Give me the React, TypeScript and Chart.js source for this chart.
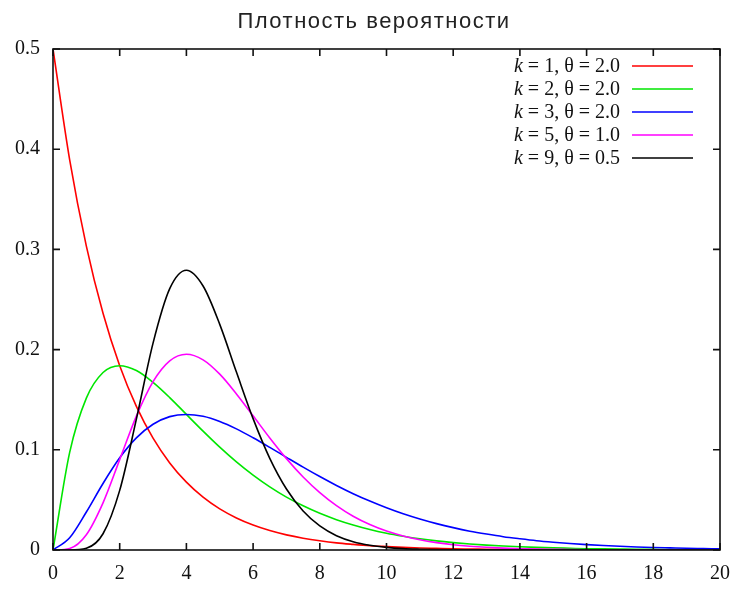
import React, { useEffect, useRef } from "react";
import { Chart, registerables } from "chart.js";

Chart.register(...registerables);

const chartTitle = "Плотность вероятности";

const xValues = [
  0, 0.5, 1, 1.5, 2, 2.5, 3, 3.5, 4, 4.5, 5, 5.5, 6, 6.5, 7, 7.5, 8, 8.5, 9, 9.5, 10,
  10.5, 11, 11.5, 12, 12.5, 13, 13.5, 14, 14.5, 15, 15.5, 16, 16.5, 17, 17.5, 18, 18.5, 19, 19.5, 20,
];

const seriesK1 = [
  0.5, 0.3894, 0.3033, 0.2362, 0.1839, 0.1433, 0.1116, 0.0869, 0.0677, 0.0527, 0.041,
  0.032, 0.0249, 0.0194, 0.0151, 0.0118, 0.0092, 0.0071, 0.0056, 0.0043, 0.0034,
  0.0026, 0.002, 0.0016, 0.0012, 0.001, 0.0008, 0.0006, 0.0005, 0.0004, 0.0003,
  0.0002, 0.0002, 0.0001, 0.0001, 0.0001, 0.0001, 0, 0, 0, 0,
];

const seriesK2 = [
  0, 0.0974, 0.1516, 0.1771, 0.1839, 0.1791, 0.1673, 0.1521, 0.1353, 0.1186, 0.1026,
  0.0879, 0.0747, 0.063, 0.0528, 0.0441, 0.0366, 0.0303, 0.025, 0.0205, 0.0168,
  0.0138, 0.0112, 0.0091, 0.0074, 0.006, 0.0049, 0.004, 0.0032, 0.0026, 0.0021,
  0.0017, 0.0013, 0.0011, 0.0009, 0.0007, 0.0006, 0.0004, 0.0004, 0.0003, 0.0002,
];

const seriesK3 = [
  0, 0.0122, 0.0379, 0.0664, 0.092, 0.1119, 0.1255, 0.1331, 0.1353, 0.1334, 0.1283,
  0.1209, 0.112, 0.1024, 0.0925, 0.0827, 0.0733, 0.0644, 0.0562, 0.0488, 0.0421,
  0.0361, 0.0309, 0.0263, 0.0223, 0.0188, 0.0159, 0.0133, 0.0112, 0.0093, 0.0078,
  0.0065, 0.0054, 0.0045, 0.0037, 0.003, 0.0025, 0.0021, 0.0017, 0.0014, 0.0011,
];

const seriesK5 = [
  0, 0.0016, 0.0153, 0.0471, 0.0902, 0.1336, 0.168, 0.1888, 0.1954, 0.1898, 0.1755,
  0.1558, 0.1339, 0.1118, 0.0912, 0.0729, 0.0573, 0.0443, 0.0337, 0.0254, 0.0189,
  0.014, 0.0102, 0.0074, 0.0053, 0.0038, 0.0027, 0.0019, 0.0013, 0.0009, 0.0007,
  0.0005, 0.0003, 0.0002, 0.0001, 0.0001, 0.0001, 0, 0, 0, 0,
];

const seriesK9 = [
  0, 0.0, 0.0017, 0.0162, 0.0595, 0.1306, 0.2065, 0.2608, 0.2792, 0.2635, 0.2252,
  0.1776, 0.1311, 0.0915, 0.0609, 0.0389, 0.024, 0.0143, 0.0083, 0.0047, 0.0026,
  0.0014, 0.0008, 0.0004, 0.0002, 0.0001, 0.0001, 0, 0, 0, 0,
  0, 0, 0, 0, 0, 0, 0, 0, 0, 0,
];

const legendK = ["1", "2", "3", "5", "9"];
const legendTheta = ["2.0", "2.0", "2.0", "1.0", "0.5"];
const seriesColors = ["#ff0000", "#00e600", "#0000ff", "#ff00ff", "#000000"];
const allSeries = [seriesK1, seriesK2, seriesK3, seriesK5, seriesK9];

const xTicks = [0, 2, 4, 6, 8, 10, 12, 14, 16, 18, 20];
const yTicks = [0, 0.1, 0.2, 0.3, 0.4, 0.5];

const SERIF = "'Liberation Serif', 'Times New Roman', serif";

const decorPlugin = {
  id: "decor",
  afterDatasetsDraw(chart: any) {
    const ctx = chart.ctx as CanvasRenderingContext2D;
    const { left, right, top, bottom } = chart.chartArea;
    const xs = chart.scales.x;
    const ys = chart.scales.y;
    ctx.save();
    // frame
    ctx.strokeStyle = "#111";
    ctx.lineWidth = 1.6;
    ctx.strokeRect(left, top, right - left, bottom - top);
    // inward ticks on all sides
    const tl = 7;
    ctx.beginPath();
    xTicks.forEach((v) => {
      const px = xs.getPixelForValue(v);
      ctx.moveTo(px, bottom);
      ctx.lineTo(px, bottom - tl);
      ctx.moveTo(px, top);
      ctx.lineTo(px, top + tl);
    });
    yTicks.forEach((v) => {
      const py = ys.getPixelForValue(v);
      ctx.moveTo(left, py);
      ctx.lineTo(left + tl, py);
      ctx.moveTo(right, py);
      ctx.lineTo(right - tl, py);
    });
    ctx.stroke();

    // title
    ctx.fillStyle = "#222";
    ctx.font = "22px 'Liberation Sans', Arial, sans-serif";
    (ctx as any).letterSpacing = "1.5px";
    ctx.textAlign = "center";
    ctx.textBaseline = "alphabetic";
    ctx.fillText(chartTitle, 374, 28);
    (ctx as any).letterSpacing = "0px";

    // legend
    const textRight = 620;
    const lineX0 = 632;
    const lineX1 = 693;
    const rowY0 = 67;
    const rowGap = 23;
    ctx.textBaseline = "middle";
    for (let i = 0; i < legendK.length; i++) {
      const y = rowY0 + i * rowGap;
      const rest = " = " + legendK[i] + ", θ = " + legendTheta[i];
      ctx.font = "20px " + SERIF;
      ctx.fillStyle = "#111";
      ctx.textAlign = "right";
      ctx.fillText(rest, textRight, y);
      const w = ctx.measureText(rest).width;
      ctx.font = "italic 20px " + SERIF;
      ctx.fillText("k", textRight - w, y);
      ctx.strokeStyle = seriesColors[i];
      ctx.lineWidth = 1.6;
      ctx.beginPath();
      ctx.moveTo(lineX0, y - 1);
      ctx.lineTo(lineX1, y - 1);
      ctx.stroke();
    }
    ctx.restore();
  },
};

export default function App() {
  const canvasRef = useRef<HTMLCanvasElement | null>(null);

  useEffect(() => {
    if (!canvasRef.current) return;
    const datasets = allSeries.map((s, i) => ({
      label: "k = " + legendK[i] + ", θ = " + legendTheta[i],
      data: xValues.map((x, j) => ({ x, y: s[j] })),
      borderColor: seriesColors[i],
      backgroundColor: seriesColors[i],
      borderWidth: 1.6,
      pointRadius: 0,
      fill: false,
      cubicInterpolationMode: "monotone" as const,
      order: allSeries.length - i,
    }));
    const chart = new Chart(canvasRef.current, {
      type: "line",
      data: { datasets },
      options: {
        animation: false,
        responsive: false,
        maintainAspectRatio: false,
        layout: { padding: { top: 49, right: 14, left: 0, bottom: 0 } },
        plugins: { legend: { display: false }, title: { display: false }, tooltip: { enabled: false } },
        scales: {
          x: {
            type: "linear",
            min: 0,
            max: 20,
            grid: { display: false, drawTicks: false },
            border: { display: false },
            afterFit: (scale: any) => {
              scale.height = 40;
              scale.paddingRight = 0;
              scale.paddingLeft = 0;
            },
            afterBuildTicks: (scale: any) => {
              scale.ticks = xTicks.map((v) => ({ value: v }));
            },
            ticks: {
              padding: 12,
              color: "#111",
              font: { family: SERIF, size: 20 },
              maxRotation: 0,
              callback: (v: any) => String(v),
            },
          },
          y: {
            type: "linear",
            min: 0,
            max: 0.5,
            grid: { display: false, drawTicks: false },
            border: { display: false },
            afterFit: (scale: any) => {
              scale.width = 53;
            },
            afterBuildTicks: (scale: any) => {
              scale.ticks = yTicks.map((v) => ({ value: v }));
            },
            ticks: {
              padding: 13,
              color: "#111",
              font: { family: SERIF, size: 20 },
              callback: (v: any) => String(Math.round(Number(v) * 10) / 10),
            },
          },
        },
      },
      plugins: [decorPlugin],
    });
    return () => chart.destroy();
  }, []);

  return (
    <div style={{ position: "fixed", left: 0, top: 0, width: 734, height: 590, background: "#fff" }}>
      <canvas ref={canvasRef} width={734} height={590} style={{ width: 734, height: 590 }} />
    </div>
  );
}
